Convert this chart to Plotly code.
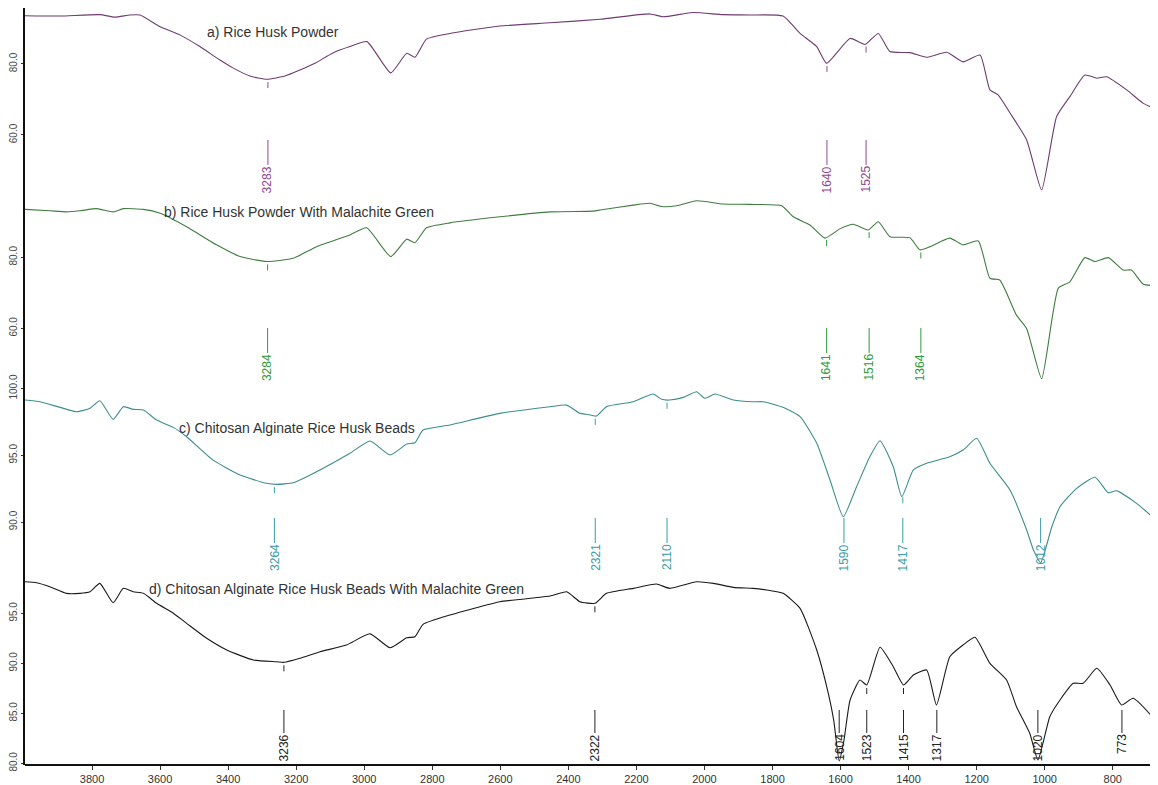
import numpy as np
import plotly.graph_objects as go

# ---------------- data (wavenumber cm-1, %T) ----------------
wa = [3997, 3894, 3777, 3733, 3689, 3659, 3600, 3542, 3483, 3424, 3386, 3336, 3286, 3233, 3189, 3145,
      3092, 3042, 2992, 2922, 2875, 2851, 2817, 2748, 2601, 2454, 2307, 2160, 2122, 2034, 1946, 1866,
      1769, 1719, 1670, 1641, 1572, 1528, 1489, 1455, 1396, 1347, 1288, 1240, 1190, 1161, 1137, 1102,
      1053, 1009, 965, 926, 882, 847, 818, 759, 710, 667]
ta = [93.6, 93.5, 93.9, 93.2, 93.8, 93.8, 90.5, 88.2, 84.9, 81.1, 78.9, 76.6, 75.7, 76.6, 78.3, 80.2,
      83.1, 84.9, 86.3, 77.5, 83.0, 81.9, 87.0, 88.6, 90.7, 91.6, 92.6, 94.1, 93.3, 94.5, 93.9, 93.8,
      93.5, 88.6, 84.9, 80.2, 87.2, 85.5, 88.6, 83.5, 83.2, 81.9, 83.3, 80.6, 82.5, 72.7, 71.3, 66.2,
      58.6, 44.5, 65.2, 70.8, 76.9, 76.0, 76.4, 72.7, 68.9, 67.0]

wb = [3997, 3924, 3875, 3836, 3786, 3738, 3708, 3649, 3600, 3522, 3434, 3365, 3287, 3209, 3140, 3042,
      2993, 2922, 2875, 2851, 2817, 2748, 2601, 2454, 2327, 2307, 2209, 2160, 2126, 2082, 2023, 1945,
      1866, 1773, 1739, 1690, 1646, 1602, 1563, 1519, 1489, 1455, 1396, 1367, 1337, 1279, 1240, 1195,
      1161, 1132, 1083, 1053, 1009, 960, 926, 882, 852, 813, 769, 745, 710, 667]
tb = [93.5, 93.1, 92.8, 93.1, 93.7, 92.8, 93.7, 93.5, 92.4, 88.6, 83.5, 80.2, 78.8, 79.7, 83.0, 86.3,
      88.3, 80.2, 85.1, 84.1, 88.3, 89.7, 91.4, 92.8, 93.0, 93.3, 94.7, 95.2, 94.3, 94.5, 95.9, 95.0,
      94.9, 94.5, 91.4, 89.1, 85.4, 88.0, 89.3, 87.7, 90.0, 85.8, 85.5, 82.1, 83.0, 85.4, 83.5, 84.6,
      74.1, 73.6, 63.7, 59.9, 45.8, 71.3, 73.1, 79.9, 78.8, 79.9, 76.4, 76.4, 72.4, 72.0]

wc = [3997, 3953, 3894, 3845, 3806, 3777, 3738, 3708, 3679, 3649, 3610, 3561, 3522, 3444, 3365, 3287,
      3257, 3209, 3140, 3042, 2983, 2924, 2875, 2851, 2827, 2748, 2601, 2454, 2405, 2366, 2346, 2317,
      2288, 2209, 2151, 2126, 2102, 2062, 2023, 1999, 1969, 1915, 1857, 1827, 1769, 1719, 1670, 1631,
      1592, 1553, 1514, 1484, 1445, 1420, 1386, 1347, 1279, 1240, 1200, 1161, 1102, 1053, 1033, 1012,
      979, 955, 906, 852, 813, 789, 730, 667]
tc = [99.14, 99.01, 98.59, 98.26, 98.52, 99.09, 97.69, 98.64, 98.44, 98.39, 97.64, 97.09, 96.39, 94.64,
      93.52, 92.90, 92.82, 92.94, 93.77, 95.15, 96.07, 95.02, 95.84, 95.94, 96.89, 97.27, 98.14, 98.64,
      98.76, 98.14, 98.07, 97.94, 98.64, 99.01, 99.59, 99.19, 99.14, 99.34, 99.76, 99.27, 99.59, 99.14,
      99.01, 99.01, 98.59, 97.89, 95.90, 93.15, 90.40, 92.64, 94.89, 96.09, 94.14, 91.90, 93.90, 94.40,
      94.89, 95.39, 96.27, 94.40, 92.40, 89.40, 87.90, 86.95, 89.65, 91.15, 92.52, 93.35, 92.19, 92.34,
      91.40, 90.02]

wd = [3997, 3963, 3924, 3875, 3836, 3806, 3777, 3738, 3708, 3679, 3649, 3610, 3561, 3522, 3463, 3404,
      3326, 3257, 3236, 3189, 3130, 3052, 2983, 2924, 2875, 2851, 2827, 2748, 2601, 2454, 2405, 2366,
      2322, 2288, 2209, 2141, 2102, 2023, 1974, 1915, 1857, 1817, 1769, 1719, 1670, 1636, 1620, 1604,
      1590, 1572, 1543, 1523, 1484, 1445, 1415, 1386, 1347, 1318, 1279, 1240, 1205, 1161, 1112, 1083,
      1044, 1020, 985, 955, 916, 887, 847, 808, 774, 740, 667]
td = [98.16, 98.06, 97.66, 97.00, 97.00, 97.16, 98.00, 96.06, 97.50, 97.16, 97.00, 96.00, 95.00, 94.00,
      92.50, 91.33, 90.33, 90.16, 90.10, 90.50, 91.16, 91.83, 92.95, 91.56, 92.56, 92.66, 93.90, 94.83,
      96.16, 96.73, 97.16, 96.16, 96.00, 97.00, 97.50, 97.93, 97.50, 98.16, 98.00, 97.60, 97.50, 97.33,
      97.00, 95.50, 91.33, 87.00, 84.30, 80.23, 82.30, 86.33, 88.33, 87.83, 91.60, 89.66, 87.83, 88.83,
      89.33, 85.83, 90.66, 91.83, 92.60, 90.00, 88.33, 85.66, 83.00, 80.33, 84.66, 86.33, 88.00, 88.00,
      89.50, 87.83, 85.83, 86.50, 84.00]

peaks_a = [3283, 1640, 1525]
peaks_b = [3284, 1641, 1516, 1364]
peaks_c = [3264, 2321, 2110, 1590, 1417, 1012]
peaks_d = [3236, 2322, 1604, 1523, 1415, 1317, 1020, 773]

names = ["a) Rice Husk Powder",
         "b) Rice Husk Powder With Malachite Green",
         "c) Chitosan Alginate Rice Husk Beads",
         "d) Chitosan Alginate Rice Husk Beads With Malachite Green"]

x_ticks = list(range(3800, 799, -200))
y_ticks = [[60, 80], [60, 80], [90, 95, 100], [80, 85, 90, 95]]

# ---------------- styling / layout ----------------
# the page body adds an 8px offset; the figure is sized to fit the window with it
W, H = 1150, 777
ML, MR, MT, MB = 17, 0, 0, 20
PH = H - MT - MB
line_colors = ["#6f3b70", "#3f7d3f", "#3c8d8f", "#1a1a1a"]
label_colors = ["#8e4a90", "#2f9a3a", "#3a9ca8", "#222222"]
domains = [[0.7517, 1.0], [0.5033, 0.7517], [0.2483, 0.5033], [0.0, 0.2483]]
ranges = [[42.82, 95.77], [44.31, 97.27], [85.88, 100.34], [79.83, 98.63]]
name_pos = [(0.1589, 0.872), (0.1209, 0.9165), (0.1342, 0.772), (0.1077, 0.936)]
line_top = [0.298, 0.298, 0.306, 0.293]
text_top = [0.165, 0.165, 0.176, 0.170]
FONT = "Liberation Sans, Arial, sans-serif"

series = [(wa, ta, peaks_a), (wb, tb, peaks_b), (wc, tc, peaks_c), (wd, td, peaks_d)]

fig = go.Figure()
shapes, annots = [], []
for i, (w, t, pk) in enumerate(series):
    yid = "y" if i == 0 else f"y{i+1}"
    fig.add_trace(go.Scatter(x=w, y=t, mode="lines", xaxis="x", yaxis=yid,
                             line=dict(color=line_colors[i], width=1.1, shape="spline", smoothing=0.5),
                             showlegend=False, hoverinfo="x+y"))
    r0, r1 = ranges[i]
    d0, d1 = domains[i]
    ppu = (d1 - d0) * PH / (r1 - r0)
    long_top_val = r0 + line_top[i] * (r1 - r0)
    wr = np.array(w[::-1], float)
    trr = np.array(t[::-1], float)
    for p in pk:
        yc = float(np.interp(p, wr, trr))
        s_top = yc - 3 / ppu
        s_bot = yc - 9 / ppu
        if s_bot > long_top_val + 2 / ppu:
            shapes.append(dict(type="line", xref="x", yref=yid, x0=p, x1=p, y0=s_top, y1=s_bot,
                               line=dict(color=label_colors[i], width=1)))
        shapes.append(dict(type="line", xref="x", yref=f"{yid} domain", x0=p, x1=p,
                           y0=text_top[i], y1=line_top[i], line=dict(color=label_colors[i], width=1)))
        annots.append(dict(x=p, y=text_top[i], xref="x", yref=f"{yid} domain", text=str(p),
                           textangle=-90, showarrow=False, xanchor="center", yanchor="top",
                           borderpad=0, font=dict(family=FONT, size=12, color=label_colors[i])))
    nx, ny = name_pos[i]
    annots.append(dict(x=nx, y=ny, xref="paper", yref=f"{yid} domain", text=names[i],
                       showarrow=False, xanchor="left", yanchor="middle",
                       font=dict(family=FONT, size=14, color="#333333")))

layout = dict(
    width=W, height=H, margin=dict(l=ML, r=MR, t=MT, b=MB, pad=0, autoexpand=False),
    paper_bgcolor="white", plot_bgcolor="white", template="none",
    shapes=shapes, annotations=annots,
    xaxis=dict(range=[3997, 667], tickvals=x_ticks, ticktext=[str(v) for v in x_ticks],
               showgrid=False, zeroline=False, showline=True, linecolor="#111", linewidth=2,
               ticks="outside", ticklen=4, tickcolor="#333", anchor="free", position=0,
               automargin=False, tickfont=dict(family=FONT, size=11, color="#333")),
)
for i in range(4):
    key = "yaxis" if i == 0 else f"yaxis{i+1}"
    layout[key] = dict(domain=domains[i], range=ranges[i], anchor="x",
                       tickvals=y_ticks[i], ticktext=[f"{v:.1f}" for v in y_ticks[i]],
                       tickangle=-90, showgrid=False, zeroline=False, automargin=False,
                       showline=True, linecolor="#111", linewidth=2,
                       ticks="outside", ticklen=2, tickcolor="#333",
                       tickfont=dict(family=FONT, size=10, color="#444"))
fig.update_layout(**layout)
fig.write_html("out.html")
